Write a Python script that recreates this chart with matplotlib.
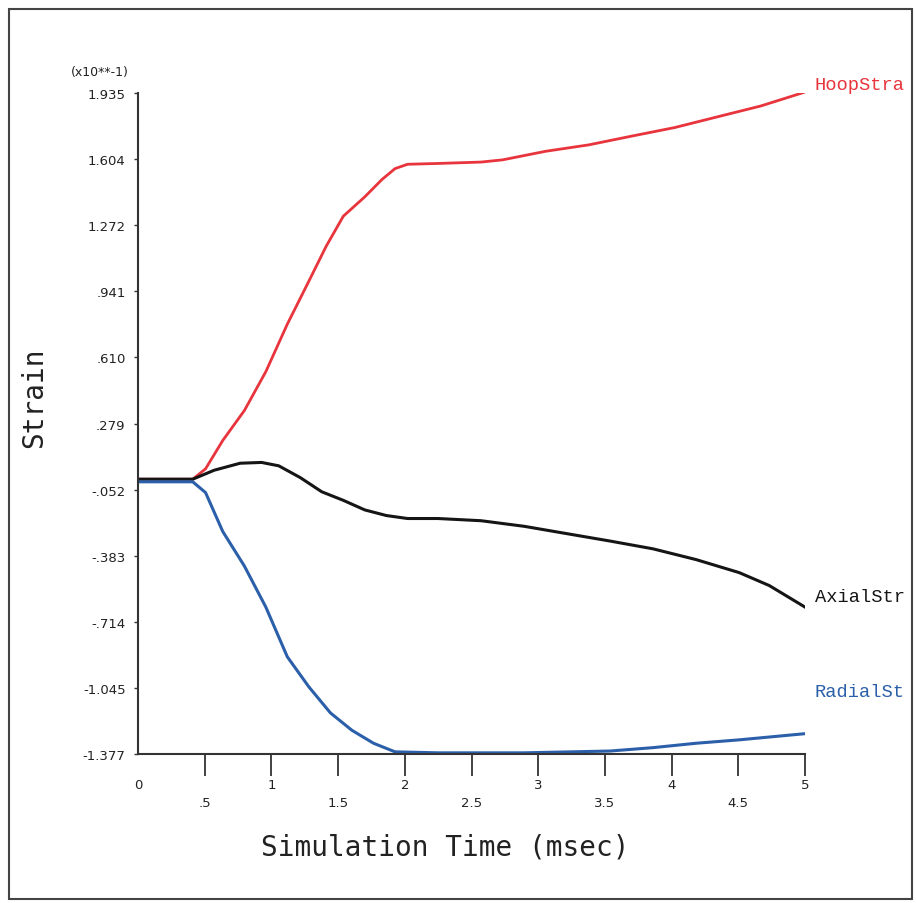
import matplotlib.pyplot as plt
from matplotlib.patches import Rectangle
import numpy as np

# values, strain in units of 10**-1
t_hoop = [0.0, 0.41, 0.506, 0.635, 0.797, 0.958, 1.119, 1.281, 1.41, 1.539, 1.7,
          1.829, 1.926, 2.02, 2.248, 2.571, 2.732, 3.055, 3.377, 3.7, 4.023,
          4.345, 4.668, 5.0]
hoop = [0.0, 0.0, 0.052, 0.194, 0.344, 0.539, 0.777, 0.993, 1.167, 1.318, 1.415,
        1.502, 1.556, 1.578, 1.582, 1.589, 1.6, 1.643, 1.675, 1.719, 1.762,
        1.816, 1.87, 1.94]

t_axial = [0.0, 0.41, 0.571, 0.765, 0.926, 1.055, 1.216, 1.377, 1.539, 1.7, 1.861,
           2.02, 2.248, 2.571, 2.894, 3.216, 3.539, 3.861, 4.184, 4.506, 4.732, 5.0]
axial = [0.0, 0.0, 0.045, 0.08, 0.084, 0.067, 0.008, -0.063, -0.106, -0.154, -0.182,
         -0.197, -0.197, -0.208, -0.236, -0.273, -0.31, -0.349, -0.403, -0.468,
         -0.533, -0.641]

t_radial = [0.0, 0.41, 0.506, 0.635, 0.797, 0.958, 1.119, 1.281, 1.442, 1.603,
            1.765, 1.926, 2.248, 2.894, 3.539, 3.861, 4.184, 4.506, 5.0]
radial = [-0.013, -0.013, -0.067, -0.262, -0.435, -0.641, -0.89, -1.041, -1.171,
          -1.258, -1.323, -1.366, -1.371, -1.371, -1.362, -1.345, -1.323, -1.306,
          -1.275]

ytick_vals = [-1.377, -1.045, -0.714, -0.383, -0.052, 0.279, 0.610, 0.941, 1.272, 1.604, 1.935]
ytick_labels = ["-1.377", "-1.045", "-.714", "-.383", "-.052", ".279", ".610", ".941",
                "1.272", "1.604", "1.935"]
xmajor = [0, 1, 2, 3, 4, 5]
xminor = [0.5, 1.5, 2.5, 3.5, 4.5]
xminor_labels = [".5", "1.5", "2.5", "3.5", "4.5"]

# curve names as they show, cut off by the frame
end_names = ["HoopStra", "AxialStr", "RadialSt"]
end_y = [1.98, -0.588, -1.064]

red = "#e8343c"
black = "#151515"
blue = "#2b5fa9"
axis_col = "#333333"

fig = plt.figure(figsize=(9.16, 9.04), dpi=100)
ax = fig.add_axes([0.1507, 0.1648, 0.7282, 0.7312])

ax.plot(t_hoop, hoop, color=red, lw=2.0)
ax.plot(t_axial, axial, color=black, lw=2.2)
ax.plot(t_radial, radial, color=blue, lw=2.2)

ax.set_xlim(0, 5)
ax.set_ylim(-1.377, 1.935)

for s in ["top", "right"]:
    ax.spines[s].set_visible(False)
for s in ["left", "bottom"]:
    ax.spines[s].set_color(axis_col)
    ax.spines[s].set_linewidth(1.5)

ax.set_yticks(ytick_vals)
ax.set_yticklabels(ytick_labels)
ax.tick_params(axis="y", direction="out", length=3, width=1, colors=axis_col,
               labelsize=9.5, pad=6, labelcolor="#222222")

ax.set_xticks(xmajor)
ax.set_xticklabels([str(v) for v in xmajor])
ax.set_xticks(xminor, minor=True)
ax.set_xticklabels(xminor_labels, minor=True)
ax.tick_params(axis="x", which="both", direction="out", length=16, width=1.3,
               colors=axis_col, labelsize=9.5, labelcolor="#222222")
ax.tick_params(axis="x", which="major", pad=1)
ax.tick_params(axis="x", which="minor", pad=14)
ax.xaxis.get_major_ticks()[0].tick1line.set_visible(False)

ax.set_xlabel("Simulation Time (msec)", family="DejaVu Sans Mono", fontsize=20,
              color="#222222")
ax.xaxis.set_label_coords(0.46, -0.118)
ax.set_ylabel("Strain", family="DejaVu Sans Mono", fontsize=20, color="#222222")
ax.yaxis.set_label_coords(-0.135, 0.54)

fig.text(0.109, 0.920, "(x10**-1)", fontsize=9, ha="center", va="center",
         color="#222222")

for name, yv, col in zip(end_names, end_y, [red, black, blue]):
    ax.annotate(name, xy=(5, yv), xytext=(7, 0), textcoords="offset points",
                family="Liberation Mono", fontsize=13.5, color=col,
                ha="left", va="center", annotation_clip=False)

fig.patches.append(Rectangle((9 / 916, 4 / 904), 903 / 916, 890 / 904,
                             transform=fig.transFigure, fill=False,
                             edgecolor="#444444", lw=1.5))

fig.savefig("out.png", dpi=100)
